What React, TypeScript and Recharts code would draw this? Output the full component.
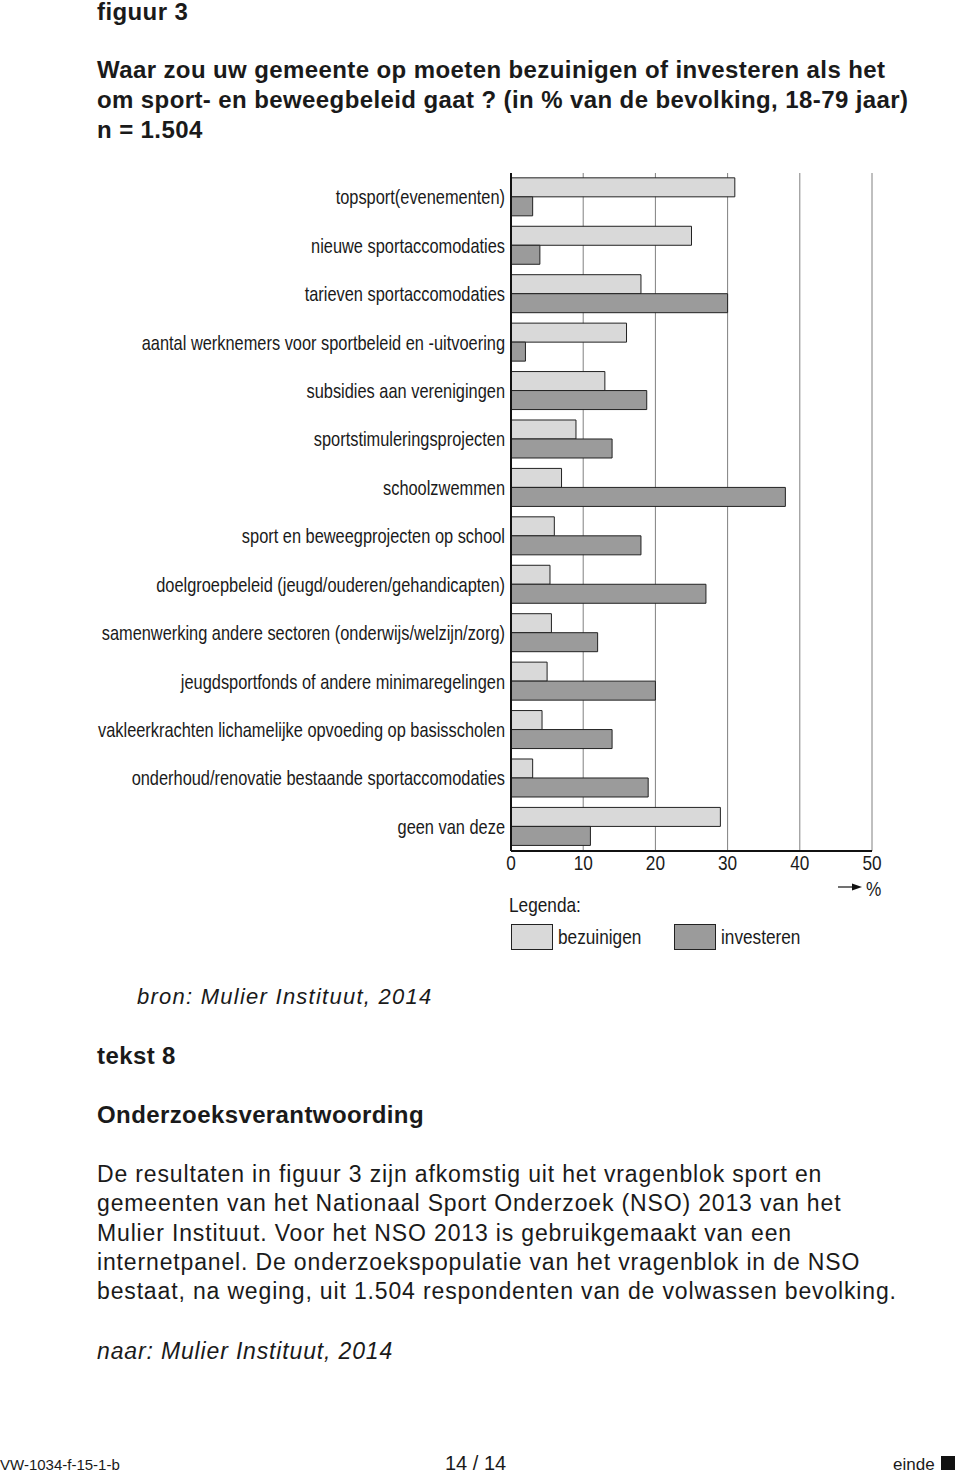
import { BarChart, Bar, XAxis, YAxis, CartesianGrid } from 'recharts';

const categories = [
  'topsport(evenementen)',
  'nieuwe sportaccomodaties',
  'tarieven sportaccomodaties',
  'aantal werknemers voor sportbeleid en -uitvoering',
  'subsidies aan verenigingen',
  'sportstimuleringsprojecten',
  'schoolzwemmen',
  'sport en beweegprojecten op school',
  'doelgroepbeleid (jeugd/ouderen/gehandicapten)',
  'samenwerking andere sectoren (onderwijs/welzijn/zorg)',
  'jeugdsportfonds of andere minimaregelingen',
  'vakleerkrachten lichamelijke opvoeding op basisscholen',
  'onderhoud/renovatie bestaande sportaccomodaties',
  'geen van deze',
];

const bezuinigen = [31, 25, 18, 16, 13, 9, 7, 6, 5.4, 5.6, 5, 4.3, 3, 29];
const investeren = [3, 4, 30, 2, 18.8, 14, 38, 18, 27, 12, 20, 14, 19, 11];

const xTicks = [0, 10, 20, 30, 40, 50];

const LIGHT = '#d9d9d9';
const DARK = '#9b9b9b';
const SANS = '"Liberation Sans", Arial, sans-serif';
const INK = '#1a1a1a';
// the reference uses a condensed face; squeeze the regular one horizontally
const SQUEEZE = 0.82;

const data = categories.map((name, i) => ({
  name,
  bezuinigen: bezuinigen[i],
  investeren: investeren[i],
}));

const abs = (left: number, top: number, extra: React.CSSProperties = {}): React.CSSProperties => ({
  position: 'absolute',
  left,
  top,
  whiteSpace: 'nowrap',
  lineHeight: 1,
  color: INK,
  ...extra,
});

const narrow = (left: number, top: number, size: number, extra: React.CSSProperties = {}) =>
  abs(left, top, { fontSize: size, transform: `scaleX(${SQUEEZE})`, transformOrigin: 'left center', ...extra });

const CategoryTick = (props: any) => {
  const { x, y, payload } = props;
  return (
    <g transform={`translate(${x + 2},${y})`}>
      <text transform={`scale(${SQUEEZE},1)`} textAnchor="end" dy="0.35em" fontSize={20} fill={INK} fontFamily={SANS}>
        {payload.value}
      </text>
    </g>
  );
};

const ValueTick = (props: any) => {
  const { x, y, payload } = props;
  return (
    <g transform={`translate(${x},${y})`}>
      <text transform={`scale(${SQUEEZE},1)`} textAnchor="middle" dy="0.62em" fontSize={21} fill={INK} fontFamily={SANS}>
        {payload.value}
      </text>
    </g>
  );
};

const paragraph = [
  'De resultaten in figuur 3 zijn afkomstig uit het vragenblok sport en',
  'gemeenten van het Nationaal Sport Onderzoek (NSO) 2013 van het',
  'Mulier Instituut. Voor het NSO 2013 is gebruikgemaakt van een',
  'internetpanel. De onderzoekspopulatie van het vragenblok in de NSO',
  'bestaat, na weging, uit 1.504 respondenten van de volwassen bevolking.',
];

const bold = { fontSize: 24, fontWeight: 'bold' as const, letterSpacing: 0.4 };

export default function App() {
  return (
    <div style={{ position: 'absolute', left: 0, top: 0, width: 960, height: 1472, background: '#fff', fontFamily: SANS }}>
      <div style={abs(97, 0, bold)}>figuur 3</div>
      <div style={abs(97, 58, bold)}>Waar zou uw gemeente op moeten bezuinigen of investeren als het</div>
      <div style={abs(97, 88, bold)}>om sport- en beweegbeleid gaat ? (in % van de bevolking, 18-79 jaar)</div>
      <div style={abs(97, 118, bold)}>n = 1.504</div>

      <div style={{ position: 'absolute', left: 0, top: 0 }}>
        <BarChart
          width={960}
          height={900}
          data={data}
          layout="vertical"
          margin={{ top: 173, right: 88, left: 0, bottom: 0 }}
          barCategoryGap="10%"
          barGap={0}
        >
          <CartesianGrid horizontal={false} stroke="#808080" strokeWidth={1} />
          <XAxis
            type="number"
            domain={[0, 50]}
            ticks={xTicks}
            height={49}
            axisLine={{ stroke: '#111', strokeWidth: 2 }}
            tickLine={false}
            tickMargin={0}
            tick={<ValueTick />}
          />
          <YAxis
            type="category"
            dataKey="name"
            width={511}
            axisLine={{ stroke: '#111', strokeWidth: 2 }}
            tickLine={false}
            tick={<CategoryTick />}
          />
          <Bar dataKey="bezuinigen" fill={LIGHT} stroke="#222" strokeWidth={1} isAnimationActive={false} />
          <Bar dataKey="investeren" fill={DARK} stroke="#222" strokeWidth={1} isAnimationActive={false} />
        </BarChart>
      </div>

      <svg style={{ position: 'absolute', left: 830, top: 878 }} width={32} height={20}>
        <line x1={8} y1={9} x2={26} y2={9} stroke="#111" strokeWidth={1.2} />
        <polygon points="32,9 22,5.5 22,12.5" fill="#111" />
      </svg>
      <div style={narrow(866, 878, 21)}>%</div>

      <div style={narrow(509, 894, 21)}>Legenda:</div>
      <div style={{ position: 'absolute', left: 511, top: 924, width: 40, height: 24, background: LIGHT, border: '1px solid #222' }} />
      <div style={narrow(558, 926, 21)}>bezuinigen</div>
      <div style={{ position: 'absolute', left: 674, top: 924, width: 40, height: 24, background: DARK, border: '1px solid #222' }} />
      <div style={narrow(721, 926, 21)}>investeren</div>

      <div style={abs(137, 986, { fontSize: 22, fontStyle: 'italic', letterSpacing: 1.25 })}>bron: Mulier Instituut, 2014</div>
      <div style={abs(97, 1044, bold)}>tekst 8</div>
      <div style={abs(97, 1103, bold)}>Onderzoeksverantwoording</div>

      {paragraph.map((line, i) => (
        <div key={i} style={abs(97, 1163 + i * 29.3, { fontSize: 23, letterSpacing: 0.85 })}>{line}</div>
      ))}

      <div style={abs(97, 1340, { fontSize: 23, fontStyle: 'italic', letterSpacing: 0.85 })}>naar: Mulier Instituut, 2014</div>

      <div style={abs(0, 1457, { fontSize: 15 })}>VW-1034-f-15-1-b</div>
      <div style={abs(445, 1453, { fontSize: 20 })}>14 / 14</div>
      <div style={abs(893, 1456, { fontSize: 17 })}>einde</div>
      <div style={{ position: 'absolute', left: 941, top: 1456, width: 14, height: 14, background: '#111' }} />
    </div>
  );
}
